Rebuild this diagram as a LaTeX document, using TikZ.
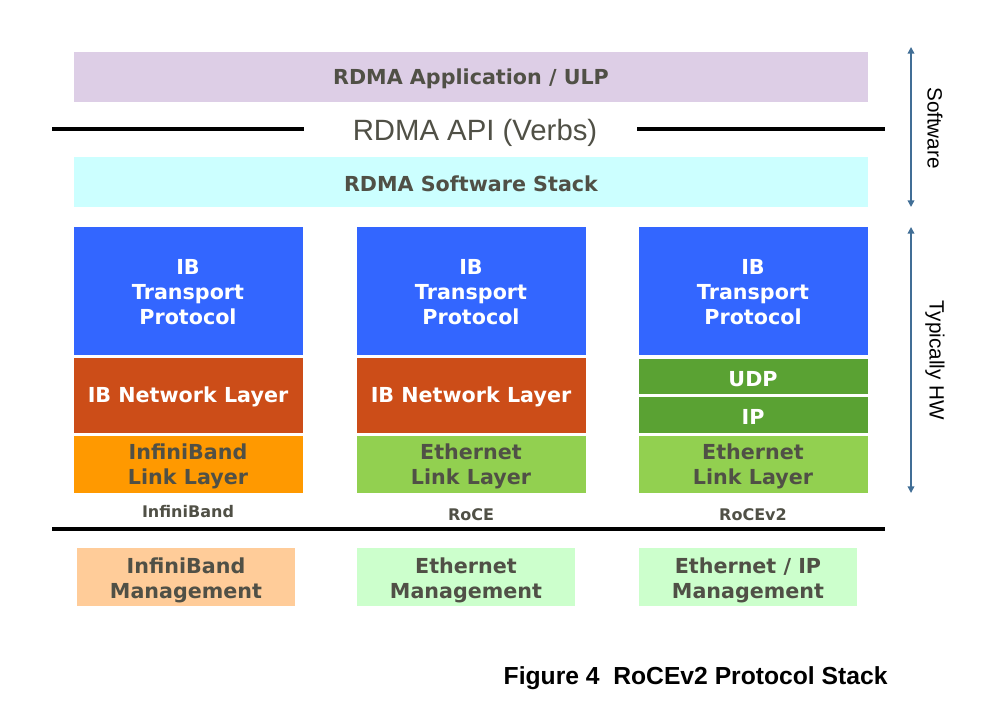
\documentclass[tikz,border=0pt]{standalone}
\usepackage{fontspec}
\setmainfont{DejaVu Sans}
\newfontfamily\arialfont{Liberation Sans}
\usetikzlibrary{arrows.meta}
\definecolor{appviolet}{RGB}{221,206,230}
\definecolor{stackcyan}{RGB}{204,255,255}
\definecolor{ibblue}{RGB}{51,102,255}
\definecolor{netrust}{RGB}{204,77,24}
\definecolor{iborange}{RGB}{255,153,0}
\definecolor{ethgreen}{RGB}{146,208,80}
\definecolor{ipgreen}{RGB}{90,162,51}
\definecolor{mgmtpeach}{RGB}{255,204,153}
\definecolor{mgmtmint}{RGB}{204,255,204}
\definecolor{txtgray}{RGB}{80,80,70}
\definecolor{spanblue}{RGB}{65,110,150}

\begin{document}
\begin{tikzpicture}[x=0.75pt,y=-0.75pt,line width=0.75pt,
  box/.style={font=\bfseries\fontsize{15.5}{18.7}\selectfont,align=center,yshift=-1.6pt},
  dark/.style={box,text=white},
  light/.style={box,text=txtgray},
  tag/.style={font=\bfseries\fontsize{12}{14}\selectfont,text=txtgray},
  rule/.style={line width=3.6pt,black},
  span/.style={draw=spanblue,line width=1.1pt,{Triangle[length=5pt,width=5pt]}-{Triangle[length=5pt,width=5pt]}},
  side/.style={font=\arialfont\fontsize{15.5}{18}\selectfont,rotate=-90}]
\useasboundingbox (0,0) rectangle (999,705);
\fill[appviolet] (74,52) rectangle (868,102);
\fill[stackcyan] (74,157) rectangle (868,207);
\draw[rule] (52,129) -- (304,129);
\draw[rule] (637,129) -- (885,129);
\fill[ibblue] (74,227) rectangle (303,355);
\fill[ibblue] (357,227) rectangle (586,355);
\fill[ibblue] (639,227) rectangle (868,355);
\fill[netrust] (74,358) rectangle (303,433);
\fill[netrust] (357,358) rectangle (586,433);
\fill[ipgreen] (639,359) rectangle (868,394);
\fill[ipgreen] (639,397) rectangle (868,433);
\fill[iborange] (74,436) rectangle (303,493);
\fill[ethgreen] (357,436) rectangle (586,493);
\fill[ethgreen] (639,436) rectangle (868,493);
\draw[rule] (52,529) -- (885,529);
\fill[mgmtpeach] (77,548) rectangle (295,606);
\fill[mgmtmint] (357,548) rectangle (575,606);
\fill[mgmtmint] (639,548) rectangle (857,606);
\node[light] (app) at (471,77) {RDMA Application / ULP};
\node[font=\arialfont\fontsize{22}{26}\selectfont,text=txtgray] (api) at (475,133) {RDMA API (Verbs)};
\node[light] (stack) at (471,182) {RDMA Software Stack};
\node[dark] (ibtrans) at (188,290) {IB\\Transport\\Protocol};
\node[dark] (rocetrans) at (471,290) {IB\\Transport\\Protocol};
\node[dark] (v2trans) at (753,290) {IB\\Transport\\Protocol};
\node[dark] (ibnet) at (188,395) {IB Network Layer};
\node[dark] (rocenet) at (471,395) {IB Network Layer};
\node[dark] (udp) at (753,377) {UDP};
\node[dark] (ip) at (753,415) {IP};
\node[light] (iblink) at (188,464) {InfiniBand\\Link Layer};
\node[light] (rocelink) at (471,464) {Ethernet\\Link Layer};
\node[light] (v2link) at (753,464) {Ethernet\\Link Layer};
\node[tag] (ibtag) at (188,512) {InfiniBand};
\node[tag] (rocetag) at (471,515) {RoCE};
\node[tag] (v2tag) at (753,515) {RoCEv2};
\node[light] (ibmgmt) at (186,578) {InfiniBand\\Management};
\node[light] (ethmgmt) at (466,578) {Ethernet\\Management};
\node[light] (ipmgmt) at (748,578) {Ethernet / IP\\Management};
\coordinate (swtop) at (911,47);
\coordinate (swbot) at (911,207);
\coordinate (hwtop) at (911,227);
\coordinate (hwbot) at (911,493);
\draw[span] (swtop) -- (swbot);
\draw[span] (hwtop) -- (hwbot);
\node[side] (sw) at (935,128) {Software};
\node[side] (hw) at (935,360) {Typically HW};
\node[anchor=east,inner sep=0pt,font=\arialfont\bfseries\fontsize{18.5}{22}\selectfont] (caption) at (888,678) {Figure 4\ \ RoCEv2 Protocol Stack};
\end{tikzpicture}
\end{document}
